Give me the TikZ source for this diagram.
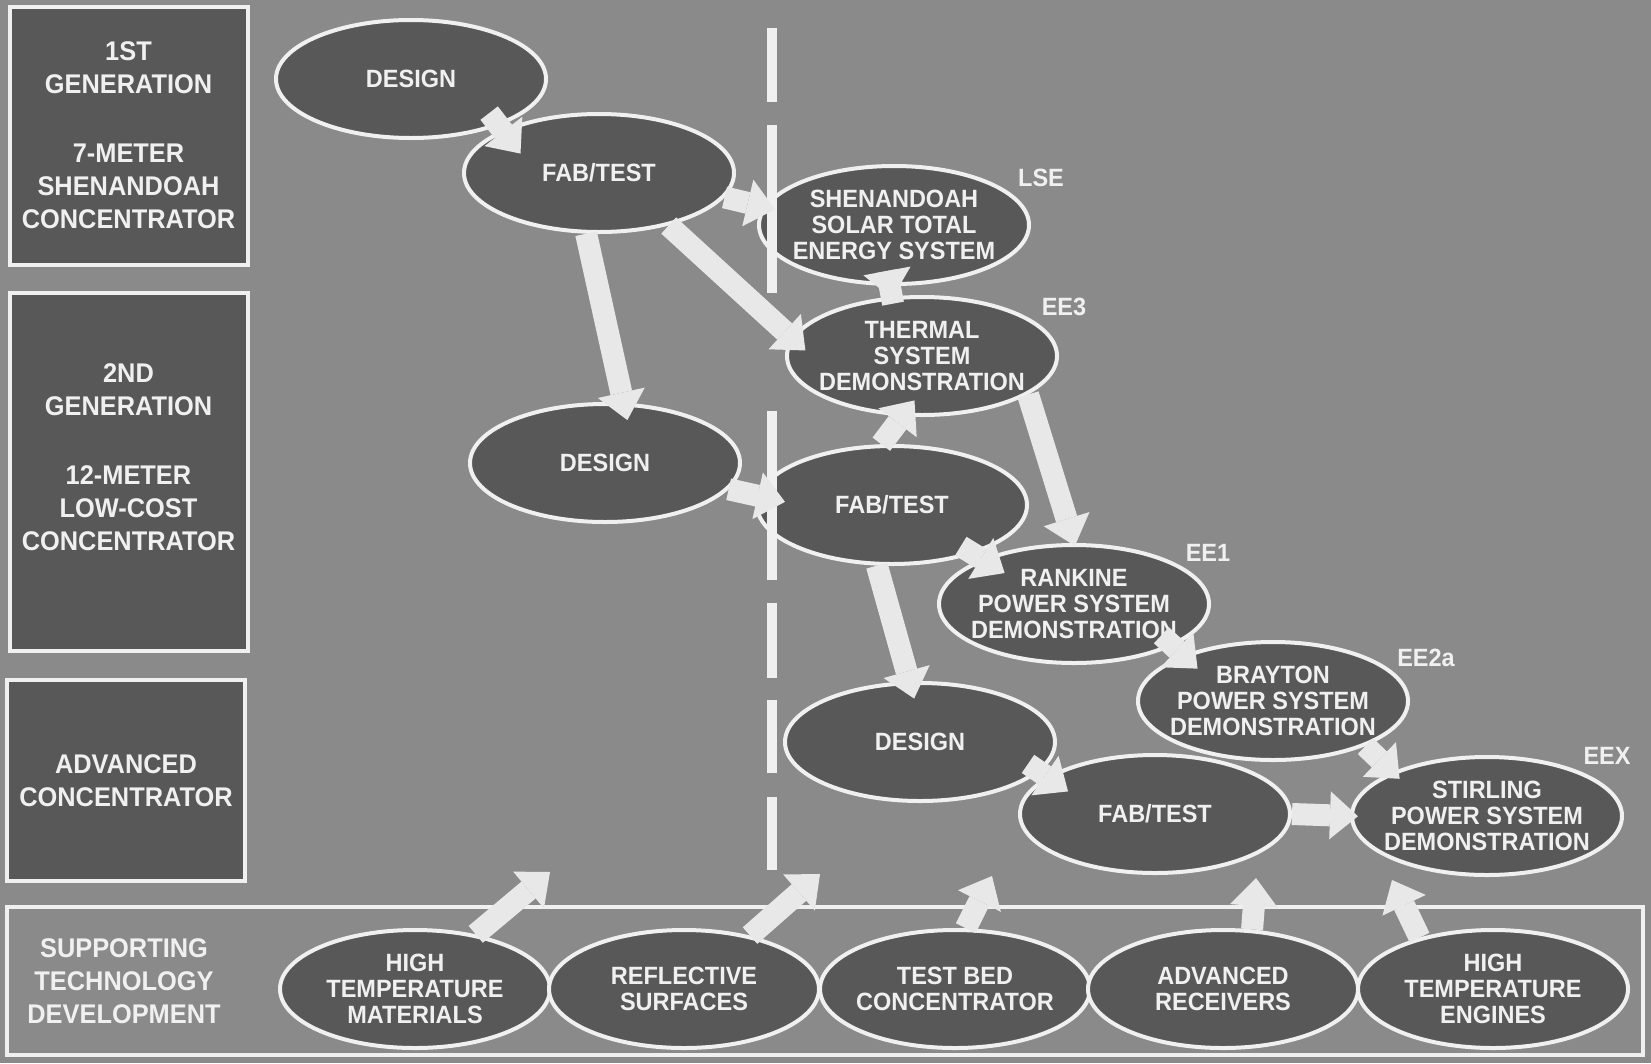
\documentclass[tikz,border=0pt]{standalone}
\usepackage{fontspec}
\setmainfont{Liberation Sans}[FakeStretch=0.94]
\usetikzlibrary{shapes.geometric, arrows.meta, calc}
\definecolor{slide}{RGB}{138,138,138}
\definecolor{panel}{RGB}{88,88,88}
\definecolor{chalk}{RGB}{240,240,240}
\definecolor{flowgray}{RGB}{232,232,232}
\tikzset{
    genbox/.style={rectangle, draw=chalk, line width=4pt, fill=panel},
    gentext/.style={align=center, text=chalk, inner sep=0pt, font=\fontsize{27pt}{33pt}\selectfont\bfseries},
    phase/.style={ellipse, draw=chalk, line width=4pt, fill=panel, minimum width=270pt, minimum height=118pt, inner xsep=-15pt, inner ysep=0pt, align=center, text=chalk, font=\fontsize{25pt}{26.3pt}\selectfont\bfseries},
    tag/.style={text=chalk, inner sep=0pt, font=\fontsize{25pt}{26pt}\selectfont\bfseries},
    flow/.style={draw=flowgray, line width=22pt, -{Triangle[length=28pt, width=48pt, line width=0pt]}},
    divider/.style={draw=chalk, line width=10pt, dash pattern=on 74pt off 23pt on 168pt off 118pt on 169pt off 23pt on 75pt off 22pt on 73pt off 24pt on 73pt off 100pt}
}

\begin{document}
\begin{tikzpicture}[x=1pt, y=-1pt]
    \fill[slide] (0,0) rectangle (1651,1063);
    \useasboundingbox (0,0) rectangle (1651,1063);
    % generation panels
    \node[genbox, minimum width=238pt, minimum height=258pt] (gen1) at (129,136) {};
    \node[genbox, minimum width=238pt, minimum height=358pt] (gen2) at (129,472) {};
    \node[genbox, minimum width=238pt, minimum height=201pt] (gen3) at (126,780.5) {};
    \node[genbox, fill=slide, minimum width=1636pt, minimum height=148pt] (support) at (825,981) {};
    \node[gentext] (gen1txt) at (128.5,135) {1ST\\GENERATION\\[36pt]7-METER\\SHENANDOAH\\CONCENTRATOR};
    \node[gentext] (gen2txt) at (128.5,457) {2ND\\GENERATION\\[36pt]12-METER\\LOW-COST\\CONCENTRATOR};
    \node[gentext] (gen3txt) at (126,781) {ADVANCED\\CONCENTRATOR};
    \node[gentext] (supporttxt) at (124,981) {SUPPORTING\\TECHNOLOGY\\DEVELOPMENT};
    % program phases
    \node[phase] (design1) at (411,79) {DESIGN};
    \node[phase] (fab1) at (599,173) {FAB/TEST};
    \node[phase] (lse) at (894,225) {SHENANDOAH\\SOLAR TOTAL\\ENERGY SYSTEM};
    \node[phase] (thermal) at (922,356) {THERMAL\\SYSTEM\\DEMONSTRATION};
    \node[phase] (design2) at (605,463) {DESIGN};
    \node[phase] (fab2) at (892,505) {FAB/TEST};
    \node[phase] (rankine) at (1074,604) {RANKINE\\POWER SYSTEM\\DEMONSTRATION};
    \node[phase] (brayton) at (1273,701) {BRAYTON\\POWER SYSTEM\\DEMONSTRATION};
    \node[phase] (design3) at (920,742) {DESIGN};
    \node[phase] (fab3) at (1155,814) {FAB/TEST};
    \node[phase] (stirling) at (1487,816) {STIRLING\\POWER SYSTEM\\DEMONSTRATION};
    % supporting technology
    \node[phase] (htmat) at (415,989) {HIGH\\TEMPERATURE\\MATERIALS};
    \node[phase] (reflect) at (684,989) {REFLECTIVE\\SURFACES};
    \node[phase] (testbed) at (955,989) {TEST BED\\CONCENTRATOR};
    \node[phase] (advrec) at (1223,989) {ADVANCED\\RECEIVERS};
    \node[phase] (htengine) at (1493,989) {HIGH\\TEMPERATURE\\ENGINES};
    % experiment tags
    \node[tag] (lsetag) at (1041,178) {LSE};
    \node[tag] (ee3) at (1064,307) {EE3};
    \node[tag] (ee1) at (1208,553) {EE1};
    \node[tag] (ee2a) at (1426,658) {EE2a};
    \node[tag] (eex) at (1607,756) {EEX};
    % divider
    \coordinate (divtop) at (772,28);
    \coordinate (divbot) at (772,870);
    \draw[divider] (divtop) -- (divbot);
    % flows
    \draw[flow, shorten <=-16pt, shorten >=-30pt] (design1.-28) -- (fab1.156);
    \draw[flow, shorten >=-12pt] (fab1.-11) -- (lse.172);
    \draw[flow, shorten >=-19pt] (fab1.-37) -- (thermal.172);
    \draw[flow, shorten >=-18pt] (fab1.-102) -- (design2.73);
    \draw[flow, shorten <=-18pt, shorten >=-2pt] (lse.-94) -- (thermal.117);
    \draw[flow, shorten >=-29pt] (design2.-12) -- (fab2.176);
    \draw[flow, shorten >=-20pt] (fab2.100) -- (thermal.-108);
    \draw[flow, shorten >=-3pt] (thermal.-20) -- (rankine.north);
    \draw[flow, shorten <=-15pt, shorten >=-27pt] (fab2.-31) -- (rankine.154);
    \draw[flow, shorten >=-18pt] (fab2.-104) -- (design3.100);
    \draw[flow, shorten <=-16pt, shorten >=-20pt] (rankine.-23) -- (brayton.153);
    \draw[flow, shorten <=-14pt, shorten >=-26pt] (design3.-14) -- (fab3.161);
    \draw[flow, shorten >=-10pt] (brayton.-26) -- (stirling.155);
    \draw[flow, shorten >=-8pt] (fab3.east) -- (stirling.west);
    \coordinate (matup) at (550,872);
    \coordinate (reflup) at (820,874);
    \coordinate (bedup) at (992,876);
    \coordinate (recup) at (1256,878);
    \coordinate (engup) at (1392,880);
    \draw[flow] (htmat.42) -- (matup);
    \draw[flow] (reflect.39) -- (reflup);
    \draw[flow] (testbed.80) -- (bedup);
    \draw[flow] (advrec.64) -- (recup);
    \draw[flow] (htengine.145) -- (engup);
\end{tikzpicture}
\end{document}
